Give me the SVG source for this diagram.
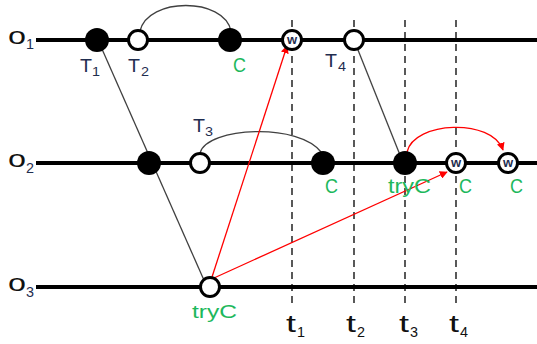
<svg xmlns="http://www.w3.org/2000/svg" width="537" height="344" viewBox="0 0 537 344">
<defs>
<style>
.axis{stroke:#000;stroke-width:4;fill:none}
.dash{stroke:#000;stroke-width:1.3;stroke-dasharray:7,5;fill:none}
.link{stroke:#404040;stroke-width:1.3;fill:none}
.red{stroke:#FF0000;stroke-width:1.3;fill:none}
.full{fill:#000}
.open{fill:#fff;stroke:#000;stroke-width:3}
.lab{font-family:"Liberation Sans",Arial,sans-serif;fill:#1F2D4F}
.obj{font-family:"Liberation Sans",Arial,sans-serif;fill:#111}
.grn{font-family:"Liberation Sans",Arial,sans-serif;fill:#1DB85C}
.w{font-family:"Liberation Sans",Arial,sans-serif;font-size:13px;font-weight:bold;fill:#1F2D4F;text-anchor:middle}
</style>
<marker id="ah" viewBox="0 0 10 10" refX="9" refY="5" markerWidth="8" markerHeight="8" markerUnits="userSpaceOnUse" orient="auto">
<path d="M0,0 L10,5 L0,10 z" fill="#FF0000"/>
</marker>
</defs>

<g id="axes">
<line class="axis" x1="36" y1="40" x2="537" y2="40"/>
<line class="axis" x1="36" y1="163" x2="537" y2="163"/>
<line class="axis" x1="36" y1="287" x2="537" y2="287"/>
<line class="dash" x1="292" y1="20" x2="292" y2="308"/>
<line class="dash" x1="354" y1="20" x2="354" y2="308"/>
<line class="dash" x1="405" y1="20" x2="405" y2="308"/>
<line class="dash" x1="456" y1="20" x2="456" y2="308"/>
</g>

<g id="connectors">
<line class="link" x1="98" y1="40" x2="207" y2="287"/>
<line class="link" x1="354" y1="40" x2="402" y2="160"/>
<path class="link" d="M140 31 C148 -3 224 -3 231 31"/>
<path class="link" d="M200 153 C207 127 300 122 322 153"/>
<line class="red" x1="212" y1="277" x2="287" y2="46" marker-end="url(#ah)"/>
<line class="red" x1="214" y1="278" x2="447" y2="172" marker-end="url(#ah)"/>
<path class="red" d="M407 152 C414 121 492 118 503 150" marker-end="url(#ah)"/>
</g>

<g id="labels-axes">
<text class="obj" x="8" y="44" font-size="24" textLength="18" lengthAdjust="spacingAndGlyphs">o</text>
<text class="lab" x="26" y="49" font-size="14" textLength="8" lengthAdjust="spacingAndGlyphs">1</text>
<text class="obj" x="8" y="167" font-size="24" textLength="18" lengthAdjust="spacingAndGlyphs">o</text>
<text class="lab" x="26" y="173" font-size="14" textLength="8" lengthAdjust="spacingAndGlyphs">2</text>
<text class="obj" x="8" y="291" font-size="24" textLength="18" lengthAdjust="spacingAndGlyphs">o</text>
<text class="lab" x="26" y="297" font-size="14" textLength="8" lengthAdjust="spacingAndGlyphs">3</text>
</g>

<g id="labels-time">
<text class="obj" x="286" y="332" font-size="24" textLength="10" lengthAdjust="spacingAndGlyphs">t</text>
<text class="obj" x="297" y="337" font-size="14" textLength="8" lengthAdjust="spacingAndGlyphs">1</text>
<text class="obj" x="346" y="332" font-size="24" textLength="10" lengthAdjust="spacingAndGlyphs">t</text>
<text class="obj" x="357" y="337" font-size="14" textLength="8" lengthAdjust="spacingAndGlyphs">2</text>
<text class="obj" x="399" y="332" font-size="24" textLength="10" lengthAdjust="spacingAndGlyphs">t</text>
<text class="obj" x="410" y="337" font-size="14" textLength="8" lengthAdjust="spacingAndGlyphs">3</text>
<text class="obj" x="449" y="332" font-size="24" textLength="10" lengthAdjust="spacingAndGlyphs">t</text>
<text class="obj" x="460" y="337" font-size="14" textLength="8" lengthAdjust="spacingAndGlyphs">4</text>
</g>

<g id="n-T1">
<circle class="full" cx="97" cy="40" r="12"/>
<text class="lab" x="80" y="72" font-size="18" textLength="12" lengthAdjust="spacingAndGlyphs">T</text>
<text class="lab" x="92" y="76" font-size="13" textLength="8" lengthAdjust="spacingAndGlyphs">1</text>
</g>
<g id="n-T2">
<circle class="open" cx="138" cy="40" r="9.5"/>
<text class="lab" x="128" y="72" font-size="18" textLength="12" lengthAdjust="spacingAndGlyphs">T</text>
<text class="lab" x="141" y="76" font-size="13" textLength="8" lengthAdjust="spacingAndGlyphs">2</text>
</g>
<g id="n-C1">
<circle class="full" cx="230" cy="40" r="12"/>
<text class="grn" x="233" y="72" font-size="20" textLength="13" lengthAdjust="spacingAndGlyphs">C</text>
</g>
<g id="n-w1">
<circle class="open" cx="292" cy="40" r="9.5"/>
<text class="w" x="292" y="44">w</text>
</g>
<g id="n-T4">
<circle class="open" cx="354" cy="40" r="9.5"/>
<text class="lab" x="325" y="67" font-size="18" textLength="12" lengthAdjust="spacingAndGlyphs">T</text>
<text class="lab" x="338" y="71" font-size="13" textLength="8" lengthAdjust="spacingAndGlyphs">4</text>
</g>

<g id="n-o2a">
<circle class="full" cx="149" cy="163" r="12"/>
</g>
<g id="n-T3">
<circle class="open" cx="200" cy="163" r="9.5"/>
<text class="lab" x="193" y="132" font-size="18" textLength="12" lengthAdjust="spacingAndGlyphs">T</text>
<text class="lab" x="205" y="136" font-size="13" textLength="8" lengthAdjust="spacingAndGlyphs">3</text>
</g>
<g id="n-C2">
<circle class="full" cx="323" cy="163" r="12"/>
<text class="grn" x="325" y="193" font-size="20" textLength="13" lengthAdjust="spacingAndGlyphs">C</text>
</g>
<g id="n-tryC2">
<circle class="full" cx="405" cy="163" r="12"/>
<text class="grn" x="388" y="193" font-size="20" textLength="43" lengthAdjust="spacingAndGlyphs">tryC</text>
</g>
<g id="n-w2">
<circle class="open" cx="456" cy="163" r="9.5"/>
<text class="w" x="456" y="167">w</text>
<text class="grn" x="459" y="193" font-size="20" textLength="13" lengthAdjust="spacingAndGlyphs">C</text>
</g>
<g id="n-w3">
<circle class="open" cx="508" cy="163" r="9.5"/>
<text class="w" x="508" y="167">w</text>
<text class="grn" x="510" y="193" font-size="20" textLength="13" lengthAdjust="spacingAndGlyphs">C</text>
</g>

<g id="n-tryC3">
<circle class="open" cx="210" cy="287" r="9.5"/>
<text class="grn" x="192" y="318" font-size="18" textLength="45" lengthAdjust="spacingAndGlyphs">tryC</text>
</g>
</svg>
